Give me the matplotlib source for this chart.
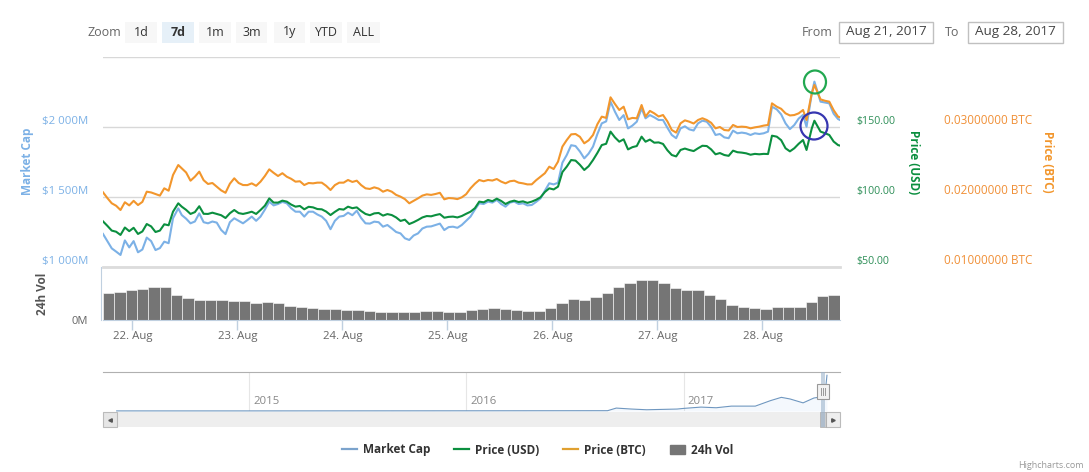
import numpy as np
import matplotlib
matplotlib.use('Agg')
import matplotlib.pyplot as plt
from matplotlib.lines import Line2D
from matplotlib.patches import Ellipse, Patch, Rectangle

plt.rcParams['font.family'] = ['Open Sans', 'DejaVu Sans']

W, H = 1089, 472

# hours since Aug 21 00:00
hours = np.concatenate([np.arange(17.3, 33.31), [34.5], np.arange(35.3, 139.31), [140.4],
                        np.arange(141.3, 169.31), [170.2], np.arange(171.3, 177.31), [178.1, 179.3, 179.9],
                        np.arange(181.3, 185.31), [185.75]])

market_cap = [1236, 1185, 1133, 1110, 1086, 1190, 1140, 1185, 1105, 1125, 1210, 1185, 1121, 1135, 1181, 1170, 1348,
              1419,
              1371, 1345, 1312, 1325, 1383, 1320, 1312, 1325, 1317, 1265, 1235, 1320, 1348, 1330, 1312, 1335, 1360,
              1330, 1360, 1410, 1467, 1440, 1450, 1465, 1455, 1420, 1395, 1395, 1360, 1395, 1395, 1375, 1360, 1330,
              1270, 1330, 1360, 1365, 1388, 1370, 1402, 1350, 1312, 1310, 1324, 1320, 1288, 1300, 1276, 1250, 1240,
              1205, 1193, 1225, 1240, 1275, 1288, 1290, 1300, 1310, 1264, 1285, 1288, 1280, 1300, 1330, 1360, 1410,
              1455, 1450, 1467, 1460, 1479, 1450, 1431, 1460, 1467, 1450, 1455, 1440, 1443, 1465, 1490, 1545, 1598,
              1590, 1602, 1745, 1800, 1870, 1864, 1825, 1776, 1810, 1860, 1950, 2026, 2040, 2181, 2110, 2050, 2085,
              1990, 2010, 2038,
              2133,
              2062, 2085, 2069, 2050, 2050, 1995, 1943, 1920, 1990, 2005, 1983, 1975, 2026, 2045, 2038, 2000, 1943,
              1950, 1926, 1920, 1974, 1955, 1960, 1955, 1943, 1955, 1950, 1955, 1967,
              2145,
              2126, 2090, 2026, 1985, 2014, 2060, 2086,
              2002, 2240, 2324,
              2181, 2175, 2169, 2095, 2057,
              2050]

price_usd = [82.6, 79.4, 76.0, 75.2, 72.9, 78.2, 75.6, 78.0, 73.6, 75.4, 80.7, 79.0, 75.0, 76.0, 80.5, 79.8, 89.5,
             95.5,
             93.1, 90.8, 87.9, 89.2, 93.4, 88.0, 87.9, 88.8, 87.9, 87.0, 85.0, 88.4, 90.7, 88.5, 87.9, 88.6, 89.5,
             87.9, 90.7, 93.8, 99.0, 96.0, 96.0, 97.4, 96.7, 94.6, 93.1, 93.6, 91.2, 93.0, 92.6, 91.4, 91.2, 89.6,
             87.1, 89.4, 91.4, 91.0, 93.1, 92.0, 92.6, 90.0, 87.9, 87.0, 88.3, 88.6, 86.7, 87.8, 87.1, 85.4, 82.9,
             83.8, 80.7, 82.0, 83.6, 85.4, 86.4, 86.2, 87.1, 87.8, 85.2, 85.8, 86.0, 85.4, 86.4, 88.0, 89.5, 92.0,
             96.7, 96.2, 97.9, 97.0, 98.8, 97.2, 95.0, 96.6, 97.4, 96.4, 96.9, 95.8, 96.7, 98.0, 99.8, 103.6, 106.2,
             105.4, 107.4, 117.8, 121.7, 126.4, 126.0, 123.0, 119.3, 122.0, 126.4, 131.5, 137.1, 138.0, 146.7, 142.6,
             139.5, 141.2, 134.0, 135.6, 136.4,
             143.1,
             139.5, 141.0, 138.8, 139.0, 137.9, 133.4, 130.0, 129.0, 133.6, 134.6, 133.6, 132.8, 134.8, 136.6, 136.4,
             134.0, 130.5, 131.4, 130.0, 129.4, 133.1, 132.0, 131.7, 131.2, 130.2, 130.8, 130.5, 130.8, 130.7,
             143.8,
             143.1, 140.6, 134.8, 132.6, 134.8, 138.0, 140.7,
             133.6, 149.0, 154.5,
             146.7, 145.6, 144.3, 139.6, 137.1,
             136.7]

price_btc = [.02067, .01985, .01910, .01875, .01814, .01925, .01880, .01945, .01885, .01930, .02076, .02065, .02043,
             .02020, .02124, .02090, .02314,
             .02457,
             .02410, .02350, .02233, .02290, .02362, .02240, .02186, .02200, .02148, .02095, .02060, .02190, .02267,
             .02200, .02171, .02170, .02195, .02160, .02219, .02300, .02395, .02345, .02300, .02340, .02290, .02260,
             .02219, .02225, .02171, .02200, .02195, .02205, .02205, .02160, .02100, .02170, .02205, .02205, .02243,
             .02215, .02233, .02170, .02124, .02115, .02138, .02120, .02076, .02100, .02076, .02030, .02005, .01970,
             .01910, .01945, .01981, .02020, .02038, .02030, .02043, .02060, .01967, .01985, .01981, .01970, .01995,
             .02040, .02124, .02190, .02243, .02225, .02243, .02235, .02257, .02220, .02195, .02225, .02233, .02205,
             .02195, .02180, .02181, .02240, .02290, .02340, .02433, .02400, .02505, .02720, .02814, .02895, .02900,
             .02860, .02767, .02810, .02886, .03040, .03148, .03130, .03424, .03330, .03243, .03290, .03110, .03130,
             .03124,
             .03314,
             .03148, .03230, .03195, .03150, .03171, .03080, .02957, .02920, .03052, .03095, .03076, .03050, .03100,
             .03125, .03100, .03060, .02981, .03000, .02957, .02950, .03029, .03000, .03005, .03000, .02981, .02995,
             .03005, .03020, .03029,
             .03338,
             .03290, .03260, .03195, .03165, .03171, .03195, .03243,
             .03100, .03481, .03600,
             .03395, .03375, .03362, .03240, .03148,
             .03138]

volume = [405, 425, 455, 460, 490, 500, 375, 325, 300, 300, 300, 285, 280, 260, 270, 250, 210, 195, 180, 165,
          160, 150, 150, 135, 120, 115, 120, 120, 130, 130, 120, 120, 150, 170, 175, 160, 150, 135, 135, 175,
          250, 315, 300, 340, 410, 500, 550, 600, 600, 560, 480, 455, 450, 375, 310, 225, 195, 180, 160, 200,
          195, 190, 275, 360, 370]

nav_years = [2014.39, 2015.0, 2016.0, 2016.65, 2016.69, 2016.76, 2016.83, 2016.97, 2017.0, 2017.08, 2017.15,
             2017.22, 2017.33, 2017.40, 2017.45, 2017.49, 2017.55, 2017.60, 2017.65, 2017.66]
nav_cap = [5, 5, 10, 15, 141, 94, 60, 94, 125, 188, 157, 235, 235, 500, 658, 580, 392, 627, 705, 1723]

day_labels = ['22. Aug', '23. Aug', '24. Aug', '25. Aug', '26. Aug', '27. Aug', '28. Aug']
zoom_buttons = ['1d', '7d', '1m', '3m', '1y', 'YTD', 'ALL']

BLUE = '#7cb1e6'
GREEN = '#0b8f3f'
ORANGE = '#f2962c'
GREY = '#757575'


def box(x0, y0, x1, y1):
    # pixel box -> figure fractions
    return [x0 / W, 1 - y1 / H, (x1 - x0) / W, (y1 - y0) / H]


fig = plt.figure(figsize=(W / 100, H / 100), dpi=100)

ax = fig.add_axes(box(103, 57, 840, 267))
ax.plot(hours, market_cap, color=BLUE, lw=1.5, zorder=3)
ax.set_xlim(17.3, 185.75)
ax.set_ylim(1000, 2500)
ax.set_yticks([1000, 1500, 2000, 2500], ['$1 000M', '$1 500M', '$2 000M', ''])
ax.tick_params(axis='y', length=0, pad=10.8, labelcolor=BLUE, labelsize=8.2)
ax.set_xticks([])
ax.grid(axis='y', color='#d8d8d8', lw=1)
for s in ['top', 'left', 'right']:
    ax.spines[s].set_visible(False)
ax.spines['bottom'].set_color('#dcdcdc')
ax.spines['bottom'].set_linewidth(2)
ax.set_axisbelow(True)

ax_usd = ax.twinx()
ax_usd.plot(hours, price_usd, color=GREEN, lw=1.5, zorder=4)
ax_usd.set_ylim(50, 200)
ax_usd.set_yticks([50, 100, 150], ['$50.00', '$100.00', '$150.00'])
ax_usd.tick_params(axis='y', length=0, pad=11.5, labelcolor='#2e8f58', labelsize=7.7)

ax_btc = ax.twinx()
ax_btc.plot(hours, price_btc, color=ORANGE, lw=1.5, zorder=5)
ax_btc.set_ylim(0.01, 0.04)
ax_btc.set_yticks([0.01, 0.02, 0.03], ['%.8f BTC' % v for v in [0.01, 0.02, 0.03]])
ax_btc.tick_params(axis='y', length=0, pad=75, labelcolor='#f09038', labelsize=8.5)

for a in [ax_usd, ax_btc]:
    for s in a.spines.values():
        s.set_visible(False)
for a in [ax, ax_usd, ax_btc]:
    for lab in a.get_yticklabels():
        lab.set_verticalalignment('bottom')

ax_vol = fig.add_axes(box(103, 267, 840, 320))
bar_hours = 18.6 + 2.59 * np.arange(len(volume))
ax_vol.bar(bar_hours, volume, width=2.59, color=GREY, edgecolor='white', linewidth=0.4)
ax_vol.set_xlim(17.3, 185.75)
ax_vol.set_ylim(0, 795)
ax_vol.set_yticks([0], ['0M'])
ax_vol.set_xticks(np.arange(24, 169, 24), day_labels)
ax_vol.tick_params(axis='y', length=0, pad=9.4, labelcolor='#666666', labelsize=8)
ax_vol.tick_params(axis='x', length=7, width=1, color='#c0d0e0', labelcolor='#666666', labelsize=8.2, pad=1)
ax_vol.get_yticklabels()[0].set_verticalalignment('bottom')
for s in ['top', 'right']:
    ax_vol.spines[s].set_visible(False)
ax_vol.spines['left'].set_position(('outward', 1.5))
ax_vol.spines['left'].set_color('#c0d0e0')
ax_vol.spines['bottom'].set_color('#c0d0e0')
ax_vol.patch.set_alpha(0)

# navigator
ax_nav = fig.add_axes(box(103, 372, 840, 411))
ax_nav.plot(nav_years, nav_cap, color='#6f97c0', lw=0.8, clip_on=False)
ax_nav.fill_between(nav_years, nav_cap, color=BLUE, alpha=0.08, lw=0)
ax_nav.set_xlim(2014.327, 2017.72)
ax_nav.set_ylim(0, 1880)
ax_nav.set_yticks([])
ax_nav.set_xticks([2015, 2016, 2017])
ax_nav.set_xticklabels([])
ax_nav.tick_params(axis='x', length=0)
ax_nav.grid(axis='x', color='#e6e6e6', lw=0.8)
ax_nav.set_axisbelow(True)
for s in ['left', 'right', 'bottom']:
    ax_nav.spines[s].set_visible(False)
ax_nav.spines['top'].set_color('#b0b0b0')
for yr in [2015, 2016, 2017]:
    ax_nav.annotate(str(yr), (yr, 0), xytext=(3, 5), textcoords='offset points',
                    color='#888888', fontsize=8.2)

# page furniture, in pixels
ui = fig.add_axes([0, 0, 1, 1], zorder=10)
ui.set_xlim(0, W)
ui.set_ylim(H, 0)
ui.axis('off')
ui.patch.set_alpha(0)

ui.text(87, 32, 'Zoom', color='#666666', fontsize=9, va='center')
btn_x = [(125, 157), (162, 194), (199, 231), (236, 267), (274, 305), (310, 342), (347, 380)]
for lab, (x0, x1) in zip(zoom_buttons, btn_x):
    active = lab == '7d'
    ui.add_patch(Rectangle((x0, 22), x1 - x0, 21, fc='#e6f0f8' if active else '#f7f7f7', ec='none'))
    ui.text((x0 + x1) / 2, 32, lab, ha='center', va='center', color='#333333', fontsize=9,
            fontweight='bold' if active else 'normal')

ui.text(802, 32, 'From', color='#666666', fontsize=9, va='center')
ui.text(945, 32, 'To', color='#666666', fontsize=9, va='center')
for x0, x1, lab in [(839, 933, 'Aug 21, 2017'), (968, 1063, 'Aug 28, 2017')]:
    ui.add_patch(Rectangle((x0, 22), x1 - x0, 21, fc='white', ec='#c0c0c0', lw=1))
    ui.text((x0 + x1) / 2, 32, lab, ha='center', va='center', color='#444444', fontsize=9.7)

ui.text(27, 161, 'Market Cap', rotation=90, ha='center', va='center', color=BLUE, fontsize=8.5, fontweight='bold')
ui.text(42, 294, '24h Vol', rotation=90, ha='center', va='center', color='#555555', fontsize=8.5, fontweight='bold')
ui.text(913, 162, 'Price (USD)', rotation=270, ha='center', va='center', color=GREEN, fontsize=8.5, fontweight='bold')
ui.text(1048, 162, 'Price (BTC)', rotation=270, ha='center', va='center', color=ORANGE, fontsize=8.5, fontweight='bold')

ui.add_patch(Ellipse((815, 82), 22, 23, fc='none', ec='#22a850', lw=1.6))
ui.add_patch(Ellipse((814, 126), 27, 27, fc='none', ec='#3636b0', lw=1.6))

# scrollbar
ui.add_patch(Rectangle((103, 412), 737, 15, fc='#eeeeee', ec='none'))
ui.add_patch(Rectangle((103, 412), 14, 15, fc='#e6e6e6', ec='#bbbbbb', lw=0.8))
ui.add_patch(Rectangle((826, 412), 14, 15, fc='#eeeeee', ec='#bbbbbb', lw=0.8))
ui.plot([110], [419.5], marker='<', ms=2.5, color='#555555')
ui.plot([833], [419.5], marker='>', ms=2.5, color='#555555')
ui.add_patch(Rectangle((820, 412), 6, 15, fc='#cccccc', ec='#aaaaaa', lw=0.5))
ui.add_patch(Rectangle((821, 372), 4, 55, fc='#9db4cc', ec='none', alpha=0.6))
ui.add_patch(Rectangle((817, 384), 12, 15, fc='#f2f2f2', ec='#999999', lw=0.8))
for x0 in [821, 823, 825]:
    ui.plot([x0, x0], [388, 395], color='#999999', lw=0.7)

ui.text(1084, 465, 'Highcharts.com', color='#999999', fontsize=6.5, va='center', ha='right')

handles = [Line2D([], [], color='#7ba3cc', lw=1.6), Line2D([], [], color=GREEN, lw=1.6),
           Line2D([], [], color='#e0a030', lw=1.6), Patch(color=GREY)]
fig.legend(handles, ['Market Cap', 'Price (USD)', 'Price (BTC)', '24h Vol'], ncol=4, frameon=False,
           loc='center', bbox_to_anchor=(537.5 / W, 1 - 450 / H), handlelength=1.3, handletextpad=0.5,
           columnspacing=2.0, prop={'size': 8.5, 'weight': 'bold'}, labelcolor='#333333')

fig.savefig('out.png', dpi=100)
